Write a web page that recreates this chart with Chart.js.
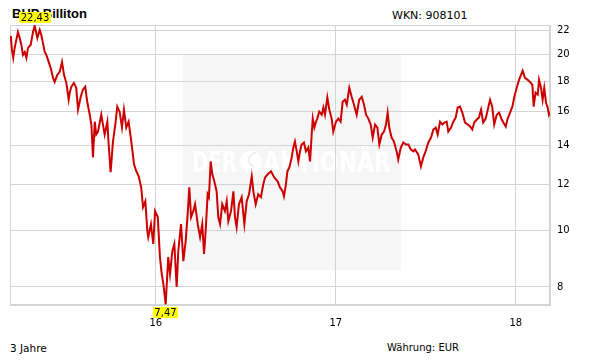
<!DOCTYPE html>
<html>
<head>
<meta charset="utf-8">
<script src="https://cdn.jsdelivr.net/npm/chart.js@4/dist/chart.umd.min.js"></script>
<style>
  html, body { margin: 0; padding: 0; background: #ffffff; }
  #wrap { position: relative; width: 611px; height: 364px; overflow: hidden; background: #ffffff; }
  #c { position: absolute; left: 0; top: 0; z-index: 2; }
  .txt { position: absolute; z-index: 1; white-space: nowrap; line-height: 1; color: #000; }
  #title { left: 12px; top: 6px; font: bold 13px "Liberation Sans", Arial, sans-serif; }
  #wkn { left: 392px; top: 9px; font: 11px "DejaVu Sans", sans-serif; }
  #period { left: 10px; top: 342px; font: 10.5px "DejaVu Sans", sans-serif; }
  #curr { left: 387px; top: 342px; font: 10px "DejaVu Sans", sans-serif; }
</style>
</head>
<body>
<div id="wrap">
  <div class="txt" id="title">BHP Billiton</div>
  <div class="txt" id="wkn">WKN: 908101</div>
  <div class="txt" id="period">3 Jahre</div>
  <div class="txt" id="curr">Währung: EUR</div>
  <canvas id="c" width="611" height="364"></canvas>
</div>
<script>
// time positions in decimal years (15.xxx = 2015)
const dates = [
15.194,15.201,15.208,15.216,15.225,15.234,15.244,15.253,15.262,15.272,
15.281,15.290,15.305,15.318,15.327,15.342,15.355,15.364,15.373,15.383,
15.392,15.405,15.416,15.429,15.438,15.453,15.466,15.479,15.490,15.503,
15.516,15.523,15.531,15.545,15.558,15.568,15.583,15.595,15.608,15.619,
15.633,15.642,15.651,15.661,15.669,15.679,15.697,15.716,15.731,15.738,
15.749,15.762,15.775,15.786,15.799,15.812,15.823,15.836,15.849,15.861,
15.868,15.879,15.892,15.905,15.919,15.929,15.942,15.953,15.958,15.973,
15.986,15.996,16.011,16.023,16.033,16.042,16.055,16.069,16.079,16.092,
16.103,16.116,16.125,16.140,16.153,16.166,16.177,16.186,16.196,16.208,
16.218,16.233,16.246,16.258,16.268,16.277,16.288,16.295,16.305,16.314,
16.325,16.338,16.347,16.357,16.369,16.384,16.394,16.403,16.418,16.431,
16.440,16.449,16.462,16.477,16.492,16.505,16.518,16.533,16.542,16.555,
16.569,16.584,16.597,16.607,16.622,16.640,16.658,16.677,16.690,16.705,
16.712,16.723,16.731,16.742,16.755,16.764,16.773,16.783,16.792,16.801,
16.810,16.823,16.834,16.847,16.857,16.866,16.872,16.881,16.890,16.897,
16.908,16.922,16.931,16.940,16.953,16.964,16.977,16.986,17.001,17.014,
17.027,17.038,17.051,17.061,17.075,17.088,17.101,17.116,17.130,17.144,
17.157,17.168,17.181,17.194,17.205,17.218,17.231,17.242,17.255,17.268,
17.279,17.288,17.297,17.310,17.323,17.338,17.347,17.361,17.375,17.390,
17.403,17.416,17.431,17.440,17.458,17.473,17.486,17.499,17.514,17.529,
17.542,17.555,17.566,17.579,17.592,17.603,17.616,17.625,17.640,17.653,
17.666,17.677,17.690,17.703,17.718,17.733,17.746,17.758,17.769,17.783,
17.795,17.807,17.819,17.833,17.847,17.857,17.869,17.880,17.894,17.907,
17.922,17.931,17.944,17.955,17.968,17.981,17.992,18.005,18.018,18.029,
18.038,18.051,18.066,18.079,18.092,18.099,18.110,18.122,18.129,18.140,
18.149,18.158,18.168,18.177,18.184,18.191
];

// share price in EUR
const prices = [
21.55,20.39,19.76,20.56,21.22,21.89,21.38,20.81,19.99,20.23,
19.76,20.56,20.81,21.89,22.43,21.38,22.06,21.63,20.97,20.23,
19.99,19.45,19.00,18.26,17.97,18.48,18.71,19.45,18.48,17.90,
16.75,17.29,17.63,17.90,17.56,16.11,16.95,17.43,17.63,16.62,
15.79,15.19,13.34,15.36,14.60,14.77,15.79,14.60,15.36,14.04,
12.58,14.20,15.19,16.30,15.98,15.01,16.11,15.01,15.36,14.43,
13.87,12.98,12.63,12.38,11.85,10.96,11.22,9.97,9.74,10.25,
9.48,10.79,10.54,9.00,8.42,8.10,7.47,9.00,8.42,9.22,
9.48,8.00,9.22,10.25,8.86,9.59,10.66,11.85,10.54,10.79,
11.09,10.25,9.74,10.25,9.11,9.97,11.53,11.40,13.13,12.48,
12.14,11.67,10.54,10.25,11.09,10.79,11.22,10.37,10.79,11.67,
10.54,10.13,11.09,11.40,10.25,11.22,11.53,12.38,11.67,11.09,
11.53,11.40,11.99,12.33,12.48,12.63,12.33,12.14,11.85,11.67,
11.44,11.99,12.63,12.82,13.34,13.87,14.20,13.66,13.13,13.66,
14.04,14.15,13.66,13.87,13.13,14.60,15.55,15.01,15.36,15.55,
15.98,15.79,16.24,15.79,16.90,16.11,15.55,14.77,15.36,15.55,
15.36,16.62,16.75,16.43,17.56,16.95,16.43,15.79,16.75,16.95,
16.43,15.79,15.55,15.19,14.43,15.19,15.01,14.04,14.60,14.77,
15.19,15.92,15.01,14.43,14.20,13.66,13.23,13.87,14.15,14.04,
14.04,13.77,13.66,13.77,13.50,12.87,13.34,13.66,14.15,14.43,
14.89,15.01,14.60,15.36,15.19,15.31,15.36,14.77,15.01,15.36,
15.61,16.24,16.30,15.92,15.31,15.19,15.07,14.89,15.31,15.49,
15.61,16.11,15.31,15.55,16.24,16.75,16.30,15.19,15.79,15.92,
15.49,15.31,15.07,15.55,15.92,16.30,16.95,17.56,18.12,18.48,
18.78,18.26,18.12,17.97,17.77,16.30,17.23,17.09,18.12,17.56,
16.75,17.56,16.55,16.24,15.79,15.98
];

const yTickValues = [8, 10, 12, 14, 16, 18, 20, 22];
const xTickValues = [16, 17, 18];

const GRID = '#d4d4d4';
const fmt = v => v.toFixed(2).replace('.', ',');

const bgPlugin = {
  id: 'bg',
  beforeDraw(chart) {
    const ctx = chart.ctx;
    ctx.save();
    // watermark panel
    ctx.fillStyle = '#f6f6f6';
    ctx.fillRect(183, 54, 218, 216);
    // watermark text
    ctx.fillStyle = '#ffffff';
    ctx.textBaseline = 'alphabetic';
    ctx.font = 'bold 28px "DejaVu Sans Condensed", "DejaVu Sans", sans-serif';
    const drawFit = (txt, x, w) => {
      const m = ctx.measureText(txt).width;
      ctx.save();
      ctx.translate(x, 172);
      ctx.scale(w / m, 1);
      ctx.fillText(txt, 0, 0);
      ctx.restore();
    };
    drawFit('DER', 192, 45);
    drawFit('AKTIONÄR', 263, 128);
    ctx.beginPath();
    ctx.arc(251, 162, 11, 0, Math.PI * 2);
    ctx.fill();
    ctx.strokeStyle = '#eeeeee';
    ctx.lineWidth = 2;
    ctx.beginPath();
    ctx.arc(256, 160, 7, Math.PI * 0.6, Math.PI * 1.5);
    ctx.stroke();
    ctx.restore();
  },
  beforeDatasetsDraw(chart) {
    const a = chart.chartArea, ctx = chart.ctx;
    ctx.save();
    ctx.strokeStyle = GRID;
    ctx.lineWidth = 1;
    ctx.strokeRect(Math.round(a.left) + 0.5, Math.round(a.top) + 0.5,
                   Math.round(a.right - a.left) - 1, Math.round(a.bottom - a.top) - 1);
    ctx.restore();
  },
  afterDatasetsDraw(chart) {
    const ctx = chart.ctx;
    const xs = chart.scales.x, ys = chart.scales.y;
    let iMax = 0, iMin = 0;
    prices.forEach((p, i) => { if (p > prices[iMax]) iMax = i; if (p < prices[iMin]) iMin = i; });
    const box = (i, above) => {
      const px = xs.getPixelForValue(dates[i]);
      const py = ys.getPixelForValue(prices[i]);
      const txt = fmt(prices[i]);
      ctx.font = '10px "DejaVu Sans", sans-serif';
      const w = Math.round(ctx.measureText(txt).width) + 3;
      const h = 11;
      const top = above ? py - 3 - h : py + 3;
      const left = Math.round(px - w / 2);
      ctx.fillStyle = '#ffff00';
      ctx.fillRect(left, Math.round(top), w, h);
      ctx.fillStyle = '#000000';
      ctx.textAlign = 'center';
      ctx.textBaseline = 'middle';
      ctx.fillText(txt, left + w / 2, Math.round(top) + h / 2 + 0.5);
    };
    ctx.save();
    box(iMax, true);
    box(iMin, false);
    ctx.restore();
  }
};

new Chart(document.getElementById('c'), {
  type: 'line',
  data: {
    datasets: [{
      data: dates.map((t, i) => ({ x: t, y: prices[i] })),
      borderColor: '#cc0000',
      borderWidth: 2,
      pointRadius: 0,
      tension: 0,
      fill: false
    }]
  },
  options: {
    responsive: false,
    animation: false,
    devicePixelRatio: 1,
    layout: { padding: { left: 10, top: 25, right: 0, bottom: 0 } },
    plugins: { legend: { display: false }, tooltip: { enabled: false } },
    scales: {
      x: {
        type: 'linear',
        position: 'bottom',
        min: 15.19,
        max: 18.19,
        afterBuildTicks: s => { s.ticks = xTickValues.map(v => ({ value: v })); },
        afterFit: s => { s.height = 59; },
        grid: { color: GRID, drawTicks: false, lineWidth: 1 },
        border: { display: true, color: GRID },
        ticks: {
          padding: 12,
          maxRotation: 0,
          color: '#000',
          font: { family: '"DejaVu Sans", sans-serif', size: 10 },
          callback: v => String(v)
        }
      },
      y: {
        type: 'logarithmic',
        position: 'right',
        min: 7.45,
        max: 22.5,
        afterBuildTicks: s => { s.ticks = yTickValues.map(v => ({ value: v })); },
        afterFit: s => { s.width = 61; },
        grid: { color: GRID, drawTicks: false, lineWidth: 1 },
        border: { display: true, color: GRID },
        ticks: {
          padding: 7,
          color: '#000',
          font: { family: '"DejaVu Sans", sans-serif', size: 10 },
          callback: v => String(v)
        }
      }
    }
  },
  plugins: [bgPlugin]
});
</script>
</body>
</html>
